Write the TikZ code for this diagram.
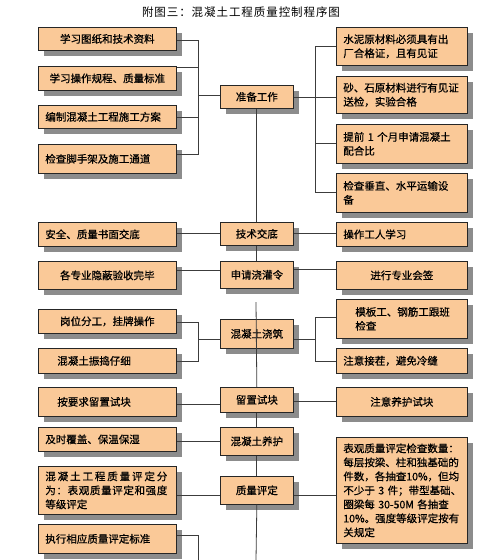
\documentclass[tikz,border=0pt]{standalone}
\usepackage{fontspec}
\newfontfamily\cjk[FakeBold=0.6]{Noto Sans CJK SC}
\newfontfamily\cjktitle{Noto Sans CJK SC}
\usetikzlibrary{shadows,calc}
\definecolor{boxc}{RGB}{250,201,152}
\definecolor{linec}{RGB}{60,60,60}
\begin{document}
\begin{tikzpicture}[x=1pt,y=-1pt,
  box/.style={draw=black!85, fill=boxc, line width=0.7pt,
    drop shadow={shadow xshift=6pt, shadow yshift=-6pt, fill=black!45, opacity=1},
    anchor=north west, inner sep=0pt, font=\cjk\fontsize{10.5}{14}\selectfont},
  lw/.style={box, minimum width=138pt, text width=124pt, align=left},
  lc/.style={box, minimum width=138pt, text width=124pt, align=center},
  li/.style={box, minimum width=138pt, text width=100pt, align=left},
  cb/.style={box, minimum width=73pt, text width=66pt, align=center},
  rw/.style={box, minimum width=131pt, text width=117pt, align=left},
  rc/.style={box, minimum width=131pt, text width=117pt, align=center},
  ri/.style={box, minimum width=131pt, text width=93pt, align=left},
  conn/.style={draw=linec, line width=0.8pt}
]
\useasboundingbox (0,0) rectangle (487,560);
\node[font=\cjktitle\fontsize{11.5}{14}\selectfont, inner sep=0pt] (title) at (241,12) {\makebox[198pt][s]{附\hfill 图\hfill 三\hfill ：\hfill 混\hfill 凝\hfill 土\hfill 工\hfill 程\hfill 质\hfill 量\hfill 控\hfill 制\hfill 程\hfill 序\hfill 图}};

% left column
\node[lc, minimum height=23pt] (L1) at (38,27) {学习图纸和技术资料};
\node[lc, minimum height=24pt] (L2) at (38,66) {学习操作规程、质量标准};
\node[lw, minimum height=23pt] (L3) at (38,105) {编制混凝土工程施工方案};
\node[lw, minimum height=29pt] (L4) at (38,144) {检查脚手架及施工通道};
\node[lw, minimum height=24pt] (L5) at (38,222) {安全、质量书面交底};
\node[lc, minimum height=28pt] (L6) at (38,261) {各专业隐蔽验收完毕};
\node[lc, minimum height=24pt] (L7) at (38,309) {岗位分工，挂牌操作};
\node[li, minimum height=25pt] (L8) at (38,348) {混凝土振捣仔细};
\node[li, minimum height=29pt] (L9) at (38,387) {按要求留置试块};
\node[lw, minimum height=24pt] (L10) at (38,427) {及时覆盖、保温保湿};
\node[lw, minimum height=48pt] (L11) at (38,466) {\makebox[122pt][s]{混\hfill 凝\hfill 土\hfill 工\hfill 程\hfill 质\hfill 量\hfill 评\hfill 定\hfill 分}\\\makebox[122pt][s]{为\hfill ：\hfill 表\hfill 观\hfill 质\hfill 量\hfill 评\hfill 定\hfill 和\hfill 强\hfill 度}\\等级评定};
\node[lw, minimum height=29pt] (L12) at (38,524) {执行相应质量评定标准};

% centre column
\node[cb, minimum height=23pt] (C1) at (220,85) {准备工作};
\node[cb, minimum height=23pt] (C2) at (220,222) {技术交底};
\node[cb, minimum height=27pt] (C3) at (220,261) {申请浇灌令};
\node[cb, minimum height=29pt] (C4) at (220,319) {混凝土浇筑};
\node[cb, minimum height=25pt] (C5) at (220,387) {留置试块};
\node[cb, minimum height=28pt] (C6) at (220,427) {混凝土养护};
\node[cb, minimum height=28pt] (C7) at (220,476) {质量评定};

% right column
\node[rw, minimum height=38pt] (R1) at (336,27) {水泥原材料必须具有出\\厂合格证，且有见证};
\node[rw, minimum height=37pt] (R2) at (336,76) {砂、石原材料进行有见证\\送检，实验合格};
\node[rw, minimum height=39pt] (R3) at (336,124) {\mbox{提前 1 个月申请混凝土}\\配合比};
\node[rw, minimum height=39pt] (R4) at (336,173) {检查垂直、水平运输设\\备};
\node[rw, minimum height=24pt] (R5) at (336,222) {操作工人学习};
\node[rc, minimum height=28pt] (R6) at (336,261) {进行专业会签};
\node[ri, minimum height=39pt] (R7) at (336,299) {模板工、钢筋工跟班\\检查};
\node[rw, minimum height=25pt] (R8) at (336,348) {注意接茬，避免冷缝};
\node[rc, minimum height=29pt] (R9) at (336,387) {注意养护试块};
\node[rw, minimum height=106pt] (R10) at (336,437) {\mbox{表观质量评定检查数量：}\\\mbox{每层按梁、柱和独基础的}\\\mbox{件数，各抽查10\%，但均}\\\mbox{不少于 3 件；带型基础、}\\\mbox{圈梁每 30-50M 各抽查}\\\mbox{10\%。强度等级评定按有}\\\mbox{关规定}};

% junctions and free ends
\coordinate (jl) at (198,95);
\coordinate (jr) at (315,97);
\coordinate (jl4) at (198,339);
\coordinate (jr4) at (315,339);
\coordinate (cgap) at (256,302);
\coordinate (cbot) at (256,560);
\coordinate (lbot) at (198,560);

% preparation group
\draw[conn] ([yshift=-2pt]L1.east) -| (jl);
\draw[conn] ([yshift=11pt]L2.east) -| (jl);
\draw[conn] ([yshift=-1pt]L3.east) -| (jl);
\draw[conn] ([yshift=4pt]L4.east) -| (jl);
\draw[conn] (jl) -- (jl -| C1.west);
\draw[conn] (C1.east |- jr) -- (jr -| R2.west);
\draw[conn] (R1.west) -| (jr);
\draw[conn] (jr) |- (R4.west);
\draw[conn] (R3.west) -- (R3.west -| jr);

% vertical spine
\draw[conn] (C1.south) -- (C2.north);
\draw[conn] (C2.south) -- (C3.north);
\draw[conn] (cgap) -- (C5.north);
\draw[conn] (C5.south) -- (C6.north);
\draw[conn] (C6.south) -- (C7.north);
\draw[conn] (C7.south) -- (cbot);

% row connectors
\draw[conn] (L5.east |- C2.west) -- (C2.west);
\draw[conn] (C2.east) -- (C2.east -| R5.west);
\draw[conn] ([yshift=5pt]L6.east) -- ([yshift=5pt]L6.east -| C3.west);
\draw[conn] ([yshift=5pt]C3.east) -- ([yshift=5pt]C3.east -| R6.west);
\draw[conn] ([yshift=-1pt]L7.east) -| (jl4);
\draw[conn] ([yshift=-1pt]L8.east) -| (jl4);
\draw[conn] (jl4) -- (jl4 -| C4.west);
\draw[conn] ([yshift=1pt]R7.west) -| (jr4);
\draw[conn] ([yshift=-1pt]R8.west) -| (jr4);
\draw[conn] (jr4) -- (jr4 -| C4.east);
\draw[conn] ([yshift=-3pt]L9.east) -- ([yshift=-3pt]L9.east -| C5.west);
\draw[conn] ([yshift=-2pt]C5.east) -- ([yshift=-2pt]C5.east -| R9.west);
\draw[conn] ([yshift=-2pt]L10.east) -- ([yshift=-2pt]L10.east -| C6.west);
\draw[conn] ([yshift=-5pt]L11.east) -- ([yshift=-5pt]L11.east -| C7.west);
\draw[conn] ([yshift=-5pt]C7.east) -- ([yshift=-5pt]C7.east -| R10.west);
\draw[conn] ([yshift=3pt]L12.east) -| (lbot);
\end{tikzpicture}
\end{document}
